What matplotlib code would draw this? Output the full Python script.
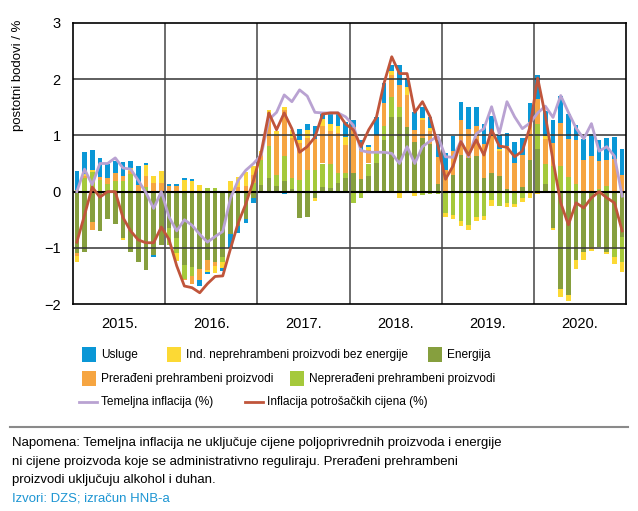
import numpy as np
import matplotlib
matplotlib.use("Agg")
import matplotlib.pyplot as plt
from matplotlib.patches import Rectangle
from matplotlib.lines import Line2D

plt.rcParams['font.family'] = ['Liberation Sans', 'DejaVu Sans']

years = ['2015.', '2016.', '2017.', '2018.', '2019.', '2020.']

# doprinosi po komponentama (postotni bodovi), mjesečno 2015.-2020.
usluge = [0.33, 0.39, 0.35, 0.34, 0.25, 0.22, 0.24, 0.13, 0.34, 0.02, -0.03, 0.0,
          0.03, 0.03, 0.04, 0.04, -0.10, -0.04, 0.0, -0.05, -0.25, -0.11, -0.07, -0.08,
          -0.03, -0.02, -0.03, -0.05, -0.03, 0.20, 0.10, 0.24, 0.12, 0.20, 0.24, 0.25,
          0.12, 0.18, 0.03, 0.33, 0.35, 0.12, 0.36, 0.15, 0.32, 0.20, 0.20, 0.30,
          0.30, 0.27, 0.31, 0.38, 0.35, 0.36, 0.36, 0.25, 0.24, 0.39, 0.30, 0.33,
          0.43, 0.45, 0.42, 0.48, 0.45, 0.27, 0.37, 0.39, 0.37, 0.39, 0.40, 0.46]
ind_neprehr = [-0.10, 0.05, 0.05, 0.0, 0.0, 0.0, -0.04, 0.05, 0.0, 0.21, 0.12, 0.21,
               0.0, -0.13, 0.20, 0.18, 0.12, -0.03, -0.13, -0.10, 0.19, 0.18, 0.24, 0.15,
               0.05, 0.06, 0.08, 0.04, 0.15, 0.06, 0.15, -0.05, 0.12, 0.14, 0.12, 0.15,
               0.0, 0.0, 0.06, 0.0, 0.0, 0.06, -0.12, 0.15, -0.08, 0.03, 0.05, 0.0,
               -0.08, -0.08, -0.09, -0.09, -0.08, -0.07, -0.10, 0.03, -0.06, -0.05, -0.06, -0.12,
               -0.05, 0.05, -0.03, -0.14, -0.10, -0.17, -0.13, -0.06, 0.0, -0.03, -0.12, -0.18]
energija = [-1.10, -1.08, -0.54, -0.70, -0.49, -0.57, -0.82, -1.08, -1.26, -1.39, -1.13, -0.95,
            -0.65, -0.83, -1.30, -1.34, -1.37, -1.22, -1.25, -1.16, -0.75, -0.62, -0.48, -0.12,
            0.12, 0.24, 0.10, 0.18, 0.05, -0.47, -0.45, -0.12, 0.08, 0.07, 0.15, 0.24,
            0.33, 0.23, 0.27, 0.51, 0.92, 1.33, 1.33, 1.15, 0.89, 0.95, 0.85, 0.14,
            0.0, 0.30, 0.66, 0.60, 0.64, 0.24, 0.33, 0.27, 0.05, 0.0, 0.08, 0.56,
            0.75, 0.14, -0.65, -1.74, -1.84, -1.21, -1.08, -0.99, -0.99, -1.08, -0.98, -0.80]
preradeni = [-0.05, 0.03, -0.14, 0.06, 0.10, 0.15, 0.10, 0.05, 0.12, 0.18, 0.15, 0.15,
             0.10, 0.10, -0.03, -0.14, -0.21, -0.18, -0.07, 0.0, 0.0, 0.08, 0.10, 0.15,
             0.10, 0.58, 0.70, 0.83, 0.70, 0.65, 0.56, 0.54, 0.67, 0.58, 0.71, 0.50,
             0.82, 0.51, 0.24, 0.32, 0.42, 0.39, 0.39, 0.57, 0.21, 0.33, 0.23, 0.48,
             0.38, 0.42, 0.62, 0.52, 0.52, 0.60, 0.66, 0.45, 0.76, 0.50, 0.57, 0.68,
             0.44, 0.45, 0.40, 0.77, 0.67, 0.78, 0.57, 0.63, 0.50, 0.46, 0.58, 0.30]
nepreradeni = [0.03, 0.24, 0.34, 0.20, 0.14, 0.18, 0.18, 0.32, 0.0, 0.09, 0.0, 0.0,
               -0.30, -0.27, -0.25, -0.16, 0.0, 0.06, 0.06, -0.10, 0.0, 0.0, 0.0, 0.15,
               0.45, 0.58, 0.20, 0.45, 0.20, 0.21, 0.39, 0.39, 0.42, 0.42, 0.18, 0.09,
               -0.21, -0.12, 0.23, 0.17, 0.24, 0.36, 0.18, 0.0, 0.0, -0.06, -0.05, -0.05,
               -0.38, -0.41, -0.53, -0.59, -0.45, -0.44, -0.15, -0.25, -0.21, -0.22, -0.12, 0.0,
               0.46, 0.35, 0.46, 0.45, 0.26, 0.14, 0.0, 0.0, 0.05, 0.10, -0.18, -0.45]

temeljna = [0.0, 0.40, 0.12, 0.50, 0.50, 0.60, 0.42, 0.40, 0.20, -0.02, -0.30, 0.0,
            -0.45, -0.70, -0.50, -0.60, -0.76, -0.90, -0.80, -0.71, -0.12, 0.20, 0.38, 0.50,
            0.65, 1.28, 1.41, 1.72, 1.60, 1.81, 1.70, 1.41, 1.40, 1.40, 1.40, 1.33,
            1.18, 0.73, 0.70, 0.70, 0.70, 0.68, 0.50, 0.80, 0.50, 0.80, 0.90, 0.99,
            0.62, 0.61, 0.90, 0.62, 1.03, 1.12, 1.51, 1.03, 1.60, 1.33, 1.12, 1.22,
            1.40, 1.52, 1.32, 1.71, 1.41, 1.13, 0.94, 1.21, 0.72, 0.80, 0.63, -0.08]
inflacija = [-0.90, -0.42, 0.08, -0.10, 0.0, 0.0, -0.46, -0.70, -0.86, -0.91, -0.91, -0.63,
             -0.85, -1.32, -1.68, -1.71, -1.80, -1.64, -1.51, -1.50, -1.02, -0.56, -0.22, 0.20,
             0.70, 1.40, 1.10, 1.40, 1.12, 0.70, 0.80, 0.97, 1.38, 1.40, 1.40, 1.20,
             1.10, 0.80, 1.10, 1.32, 1.93, 2.40, 2.10, 2.10, 1.41, 1.60, 1.33, 0.82,
             0.22, 0.46, 0.89, 0.65, 0.92, 0.65, 1.10, 0.81, 0.79, 0.62, 0.72, 1.15,
             2.02, 1.35, 0.55, -0.20, -0.59, -0.20, -0.29, -0.11, 0.0, -0.11, -0.20, -0.70]

c_usl = '#0a97d6'
c_ind = '#fcd934'
c_ene = '#869f3e'
c_pre = '#f6a541'
c_nep = '#a5c93b'
c_tem = '#b9a2d2'
c_inf = '#c0553b'

fig = plt.figure(figsize=(6.38, 5.11), dpi=100)
ax = fig.add_axes([73/638, 1-304/511, (626-73)/638, (304-23)/511])

x = np.arange(len(usluge))
pos_bot = np.zeros(len(x))
neg_bot = np.zeros(len(x))
for vals, col in [(energija, c_ene), (nepreradeni, c_nep), (preradeni, c_pre),
                  (ind_neprehr, c_ind), (usluge, c_usl)]:
    v = np.array(vals)
    p = np.where(v > 0, v, 0)
    n = np.where(v < 0, v, 0)
    ax.bar(x, p, bottom=pos_bot, width=0.6, color=col, linewidth=0, zorder=1)
    ax.bar(x, n, bottom=neg_bot, width=0.6, color=col, linewidth=0, zorder=1)
    pos_bot += p
    neg_bot += n

for yv in [-1, 1, 2]:
    ax.axhline(yv, color='#333333', lw=1.1, zorder=2)
ax.axhline(0, color='black', lw=1.5, zorder=2)
for k in range(1, 6):
    ax.axvline(12*k - 0.5, color='#444444', lw=1.1, zorder=2)

ax.plot(x, temeljna, color=c_tem, lw=2.0, zorder=3)
ax.plot(x, inflacija, color=c_inf, lw=2.0, zorder=4)

ax.set_xlim(-0.5, 71.5)
ax.set_ylim(-2, 3)
ax.set_yticks([-2, -1, 0, 1, 2, 3])
ax.set_xticks([12*k + 5.5 for k in range(6)])
ax.set_xticklabels(years, fontsize=10.5)
ax.tick_params(axis='both', length=0, labelsize=10.5)
ax.tick_params(axis='x', pad=9)
ax.tick_params(axis='y', pad=9)
for s in ax.spines.values():
    s.set_color('black')
    s.set_linewidth(1.2)

fig.text(18/638, 1-75/511, 'postotni bodovi / %', rotation=90, ha='center',
         va='center', fontsize=9.5)

# legenda i napomena u pikselima
bg = fig.add_axes([0, 0, 1, 1], zorder=-1)
bg.set_xlim(0, 638)
bg.set_ylim(511, 0)
bg.axis('off')

leg_patches = [(82, 355, c_usl, 'Usluge'),
               (167, 355, c_ind, 'Ind. neprehrambeni proizvodi bez energije'),
               (428, 355, c_ene, 'Energija'),
               (82, 379, c_pre, 'Prerađeni prehrambeni proizvodi'),
               (290, 379, c_nep, 'Neprerađeni prehrambeni proizvodi')]
for px, py, col, lab in leg_patches:
    bg.add_patch(Rectangle((px, py-7.5), 14, 15, color=col, lw=0))
    bg.text(px+19, py, lab, fontsize=8.6, va='center', ha='left')

for lx, col, lab in [(79, c_tem, 'Temeljna inflacija (%)'),
                     (245, c_inf, 'Inflacija potrošačkih cijena (%)')]:
    bg.add_line(Line2D([lx, lx+18], [402, 402], color=col, lw=2.0))
    bg.text(lx+22, 402, lab, fontsize=8.6, va='center', ha='left')

bg.add_line(Line2D([10, 628], [427, 427], color='#8a8a8a', lw=1.5))

note = ['Napomena: Temeljna inflacija ne uključuje cijene poljoprivrednih proizvoda i energije',
        'ni cijene proizvoda koje se administrativno reguliraju. Prerađeni prehrambeni',
        'proizvodi uključuju alkohol i duhan.']
for i, line in enumerate(note):
    bg.text(12, 443 + 18.5*i, line, fontsize=9.45, va='center', ha='left')
bg.text(12, 498.5, 'Izvori: DZS; izračun HNB-a', fontsize=9.45, va='center',
        ha='left', color='#1c95d3')

fig.savefig('out.png', dpi=100)
